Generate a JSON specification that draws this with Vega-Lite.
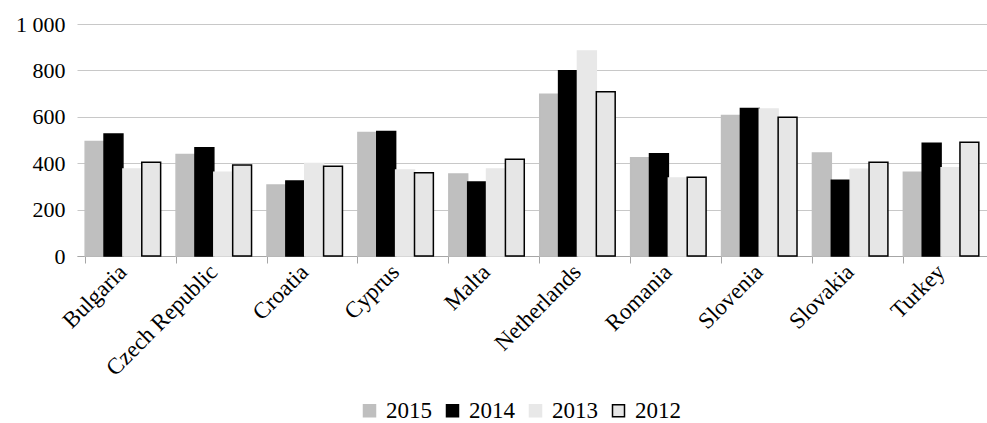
{
  "$schema": "https://vega.github.io/schema/vega-lite/v6.json",
  "width": 910,
  "height": 232,
  "autosize": {"type": "none"},
  "padding": {"left": 77, "top": 24, "right": 0, "bottom": 167},
  "background": "white",
  "config": {
    "font": "Liberation Serif",
    "view": {"stroke": null}
  },
  "data": {
    "values": [
      {"country": "Bulgaria", "year": "2015", "value": 493},
      {"country": "Bulgaria", "year": "2014", "value": 526},
      {"country": "Bulgaria", "year": "2013", "value": 375},
      {"country": "Bulgaria", "year": "2012", "value": 404},
      {"country": "Czech Republic", "year": "2015", "value": 437},
      {"country": "Czech Republic", "year": "2014", "value": 467},
      {"country": "Czech Republic", "year": "2013", "value": 361},
      {"country": "Czech Republic", "year": "2012", "value": 392},
      {"country": "Croatia", "year": "2015", "value": 306},
      {"country": "Croatia", "year": "2014", "value": 323},
      {"country": "Croatia", "year": "2013", "value": 399},
      {"country": "Croatia", "year": "2012", "value": 387},
      {"country": "Cyprus", "year": "2015", "value": 532},
      {"country": "Cyprus", "year": "2014", "value": 537},
      {"country": "Cyprus", "year": "2013", "value": 371},
      {"country": "Cyprus", "year": "2012", "value": 359},
      {"country": "Malta", "year": "2015", "value": 353},
      {"country": "Malta", "year": "2014", "value": 319},
      {"country": "Malta", "year": "2013", "value": 375},
      {"country": "Malta", "year": "2012", "value": 417},
      {"country": "Netherlands", "year": "2015", "value": 697},
      {"country": "Netherlands", "year": "2014", "value": 799},
      {"country": "Netherlands", "year": "2013", "value": 884},
      {"country": "Netherlands", "year": "2012", "value": 708},
      {"country": "Romania", "year": "2015", "value": 424},
      {"country": "Romania", "year": "2014", "value": 441},
      {"country": "Romania", "year": "2013", "value": 336},
      {"country": "Romania", "year": "2012", "value": 339},
      {"country": "Slovenia", "year": "2015", "value": 606},
      {"country": "Slovenia", "year": "2014", "value": 636},
      {"country": "Slovenia", "year": "2013", "value": 634},
      {"country": "Slovenia", "year": "2012", "value": 598},
      {"country": "Slovakia", "year": "2015", "value": 444},
      {"country": "Slovakia", "year": "2014", "value": 326},
      {"country": "Slovakia", "year": "2013", "value": 374},
      {"country": "Slovakia", "year": "2012", "value": 404},
      {"country": "Turkey", "year": "2015", "value": 361},
      {"country": "Turkey", "year": "2014", "value": 486},
      {"country": "Turkey", "year": "2013", "value": 380},
      {"country": "Turkey", "year": "2012", "value": 490}
    ]
  },
  "mark": {"type": "bar", "strokeWidth": 1.5},
  "encoding": {
    "x": {
      "field": "country",
      "type": "nominal",
      "sort": null,
      "scale": {"paddingInner": 0.17, "paddingOuter": 0.09},
      "axis": {
        "title": null,
        "labelAngle": -45,
        "labelFontSize": 23,
        "labelColor": "#000",
        "labelAlign": "right",
        "labelBaseline": "middle",
        "labelPadding": 5,
        "bandPosition": 0,
        "domainColor": "#a6a6a6",
        "domainWidth": 1,
        "tickColor": "#a6a6a6",
        "tickSize": 7,
        "grid": false
      }
    },
    "xOffset": {
      "field": "year",
      "type": "nominal",
      "sort": ["2015", "2014", "2013", "2012"],
      "scale": {"paddingInner": 0, "paddingOuter": 0}
    },
    "y": {
      "field": "value",
      "type": "quantitative",
      "scale": {"domain": [0, 1000], "nice": false},
      "axis": {
        "title": null,
        "values": [0, 200, 400, 600, 800, 1000],
        "labelExpr": "replace(format(datum.value, ','), ',', ' ')",
        "labelFontSize": 22,
        "labelColor": "#000",
        "labelPadding": 12,
        "ticks": false,
        "domain": false,
        "gridColor": "#c8c8c8",
        "gridWidth": 1
      }
    },
    "fill": {
      "field": "year",
      "type": "nominal",
      "scale": {
        "domain": ["2015", "2014", "2013", "2012"],
        "range": ["#bfbfbf", "#000000", "#e8e8e8", "#e6e6e6"]
      },
      "legend": {
        "title": null,
        "orient": "none",
        "direction": "horizontal",
        "legendX": 281,
        "legendY": 375,
        "symbolType": "square",
        "symbolSize": 144,
        "symbolStrokeWidth": 1.5,
        "labelFontSize": 23,
        "labelColor": "#000",
        "labelOffset": 5,
        "columnPadding": 9
      }
    },
    "stroke": {
      "field": "year",
      "type": "nominal",
      "scale": {
        "domain": ["2015", "2014", "2013", "2012"],
        "range": ["#bfbfbf", "#000000", "#e8e8e8", "#000000"]
      },
      "legend": null
    }
  }
}
